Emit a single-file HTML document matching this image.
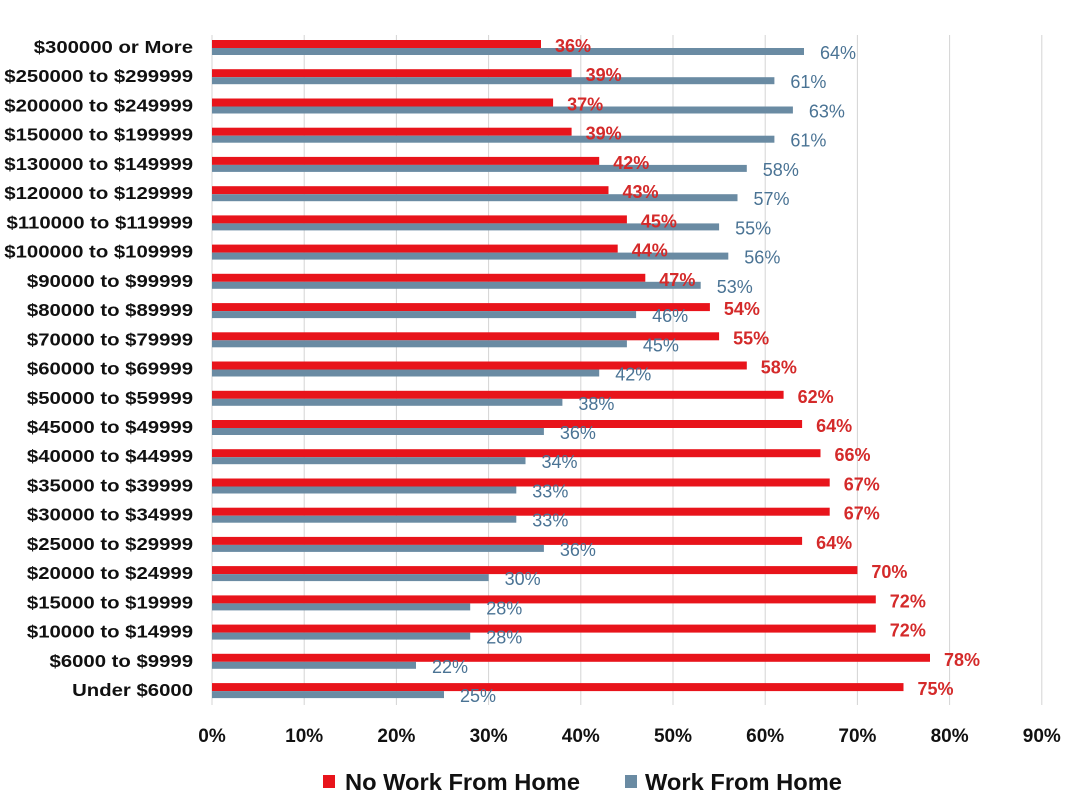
<!DOCTYPE html>
<html><head><meta charset="utf-8"><style>
body{margin:0;background:#fff}
svg{display:block;font-family:"Liberation Sans",Arial,sans-serif}
.c{font-size:18px;font-weight:bold;fill:#111;text-anchor:end}
.r{fill:#e8141b}.b{fill:#6a8ba3}
.rl{font-size:18px;font-weight:bold;fill:#d42a2a}
.bl{font-size:18px;fill:#4a7394}
.t{font-size:19px;font-weight:bold;fill:#111;text-anchor:middle}
</style></head><body>
<svg width="1080" height="811" viewBox="0 0 1080 811">
<g stroke="#d4d4d4" stroke-width="1">
<line x1="212" y1="35" x2="212" y2="705"/><line x1="304.2" y1="35" x2="304.2" y2="705"/><line x1="396.4" y1="35" x2="396.4" y2="705"/><line x1="488.6" y1="35" x2="488.6" y2="705"/><line x1="580.8" y1="35" x2="580.8" y2="705"/><line x1="673" y1="35" x2="673" y2="705"/><line x1="765.2" y1="35" x2="765.2" y2="705"/><line x1="857.4" y1="35" x2="857.4" y2="705"/><line x1="949.6" y1="35" x2="949.6" y2="705"/><line x1="1041.8" y1="35" x2="1041.8" y2="705"/>
</g>
<g transform="scale(1.13,1)">
<text class="c" x="170.8" y="53">$300000 or More</text>
<text class="c" x="170.8" y="82.2">$250000 to $299999</text>
<text class="c" x="170.8" y="111.5">$200000 to $249999</text>
<text class="c" x="170.8" y="140.7">$150000 to $199999</text>
<text class="c" x="170.8" y="169.9">$130000 to $149999</text>
<text class="c" x="170.8" y="199.2">$120000 to $129999</text>
<text class="c" x="170.8" y="228.4">$110000 to $119999</text>
<text class="c" x="170.8" y="257.6">$100000 to $109999</text>
<text class="c" x="170.8" y="286.8">$90000 to $99999</text>
<text class="c" x="170.8" y="316.1">$80000 to $89999</text>
<text class="c" x="170.8" y="345.3">$70000 to $79999</text>
<text class="c" x="170.8" y="374.5">$60000 to $69999</text>
<text class="c" x="170.8" y="403.8">$50000 to $59999</text>
<text class="c" x="170.8" y="433">$45000 to $49999</text>
<text class="c" x="170.8" y="462.2">$40000 to $44999</text>
<text class="c" x="170.8" y="491.5">$35000 to $39999</text>
<text class="c" x="170.8" y="520.7">$30000 to $34999</text>
<text class="c" x="170.8" y="549.9">$25000 to $29999</text>
<text class="c" x="170.8" y="579.1">$20000 to $24999</text>
<text class="c" x="170.8" y="608.4">$15000 to $19999</text>
<text class="c" x="170.8" y="637.6">$10000 to $14999</text>
<text class="c" x="170.8" y="666.8">$6000 to $9999</text>
<text class="c" x="170.8" y="696.1">Under $6000</text>
</g>
<g transform="translate(212,40)"><rect class="r" width="329" height="8"/><rect class="b" y="8" width="592" height="7"/><text class="rl" x="343" y="12">36%</text><text class="bl" x="608" y="19">64%</text></g>
<g transform="translate(212,69.2)"><rect class="r" width="359.6" height="8"/><rect class="b" y="8" width="562.4" height="7"/><text class="rl" x="373.6" y="12">39%</text><text class="bl" x="578.4" y="19">61%</text></g>
<g transform="translate(212,98.5)"><rect class="r" width="341.1" height="8"/><rect class="b" y="8" width="580.9" height="7"/><text class="rl" x="355.1" y="12">37%</text><text class="bl" x="596.9" y="19">63%</text></g>
<g transform="translate(212,127.7)"><rect class="r" width="359.6" height="8"/><rect class="b" y="8" width="562.4" height="7"/><text class="rl" x="373.6" y="12">39%</text><text class="bl" x="578.4" y="19">61%</text></g>
<g transform="translate(212,156.9)"><rect class="r" width="387.2" height="8"/><rect class="b" y="8" width="534.8" height="7"/><text class="rl" x="401.2" y="12">42%</text><text class="bl" x="550.8" y="19">58%</text></g>
<g transform="translate(212,186.2)"><rect class="r" width="396.5" height="8"/><rect class="b" y="8" width="525.5" height="7"/><text class="rl" x="410.5" y="12">43%</text><text class="bl" x="541.5" y="19">57%</text></g>
<g transform="translate(212,215.4)"><rect class="r" width="414.9" height="8"/><rect class="b" y="8" width="507.1" height="7"/><text class="rl" x="428.9" y="12">45%</text><text class="bl" x="523.1" y="19">55%</text></g>
<g transform="translate(212,244.6)"><rect class="r" width="405.7" height="8"/><rect class="b" y="8" width="516.3" height="7"/><text class="rl" x="419.7" y="12">44%</text><text class="bl" x="532.3" y="19">56%</text></g>
<g transform="translate(212,273.8)"><rect class="r" width="433.3" height="8"/><rect class="b" y="8" width="488.7" height="7"/><text class="rl" x="447.3" y="12">47%</text><text class="bl" x="504.7" y="19">53%</text></g>
<g transform="translate(212,303.1)"><rect class="r" width="497.9" height="8"/><rect class="b" y="8" width="424.1" height="7"/><text class="rl" x="511.9" y="12">54%</text><text class="bl" x="440.1" y="19">46%</text></g>
<g transform="translate(212,332.3)"><rect class="r" width="507.1" height="8"/><rect class="b" y="8" width="414.9" height="7"/><text class="rl" x="521.1" y="12">55%</text><text class="bl" x="430.9" y="19">45%</text></g>
<g transform="translate(212,361.5)"><rect class="r" width="534.8" height="8"/><rect class="b" y="8" width="387.2" height="7"/><text class="rl" x="548.8" y="12">58%</text><text class="bl" x="403.2" y="19">42%</text></g>
<g transform="translate(212,390.8)"><rect class="r" width="571.6" height="8"/><rect class="b" y="8" width="350.4" height="7"/><text class="rl" x="585.6" y="12">62%</text><text class="bl" x="366.4" y="19">38%</text></g>
<g transform="translate(212,420)"><rect class="r" width="590.1" height="8"/><rect class="b" y="8" width="331.9" height="7"/><text class="rl" x="604.1" y="12">64%</text><text class="bl" x="347.9" y="19">36%</text></g>
<g transform="translate(212,449.2)"><rect class="r" width="608.5" height="8"/><rect class="b" y="8" width="313.5" height="7"/><text class="rl" x="622.5" y="12">66%</text><text class="bl" x="329.5" y="19">34%</text></g>
<g transform="translate(212,478.5)"><rect class="r" width="617.7" height="8"/><rect class="b" y="8" width="304.3" height="7"/><text class="rl" x="631.7" y="12">67%</text><text class="bl" x="320.3" y="19">33%</text></g>
<g transform="translate(212,507.7)"><rect class="r" width="617.7" height="8"/><rect class="b" y="8" width="304.3" height="7"/><text class="rl" x="631.7" y="12">67%</text><text class="bl" x="320.3" y="19">33%</text></g>
<g transform="translate(212,536.9)"><rect class="r" width="590.1" height="8"/><rect class="b" y="8" width="331.9" height="7"/><text class="rl" x="604.1" y="12">64%</text><text class="bl" x="347.9" y="19">36%</text></g>
<g transform="translate(212,566.1)"><rect class="r" width="645.4" height="8"/><rect class="b" y="8" width="276.6" height="7"/><text class="rl" x="659.4" y="12">70%</text><text class="bl" x="292.6" y="19">30%</text></g>
<g transform="translate(212,595.4)"><rect class="r" width="663.8" height="8"/><rect class="b" y="8" width="258.2" height="7"/><text class="rl" x="677.8" y="12">72%</text><text class="bl" x="274.2" y="19">28%</text></g>
<g transform="translate(212,624.6)"><rect class="r" width="663.8" height="8"/><rect class="b" y="8" width="258.2" height="7"/><text class="rl" x="677.8" y="12">72%</text><text class="bl" x="274.2" y="19">28%</text></g>
<g transform="translate(212,653.8)"><rect class="r" width="718" height="8"/><rect class="b" y="8" width="204" height="7"/><text class="rl" x="732" y="12">78%</text><text class="bl" x="220" y="19">22%</text></g>
<g transform="translate(212,683.1)"><rect class="r" width="691.5" height="8"/><rect class="b" y="8" width="232" height="7"/><text class="rl" x="705.5" y="12">75%</text><text class="bl" x="248" y="19">25%</text></g>
<g>
<text class="t" x="212" y="742">0%</text><text class="t" x="304.2" y="742">10%</text><text class="t" x="396.4" y="742">20%</text><text class="t" x="488.6" y="742">30%</text><text class="t" x="580.8" y="742">40%</text><text class="t" x="673" y="742">50%</text><text class="t" x="765.2" y="742">60%</text><text class="t" x="857.4" y="742">70%</text><text class="t" x="949.6" y="742">80%</text><text class="t" x="1041.8" y="742">90%</text>
</g>
<rect x="323" y="775" width="12" height="13" fill="#e8141b"/>
<text x="345" y="790" font-size="23" font-weight="bold" fill="#111" textLength="235" lengthAdjust="spacingAndGlyphs">No Work From Home</text>
<rect x="625" y="775" width="12" height="13" fill="#6a8ba3"/>
<text x="645" y="790" font-size="23" font-weight="bold" fill="#111" textLength="197" lengthAdjust="spacingAndGlyphs">Work From Home</text>
</svg>
</body></html>
